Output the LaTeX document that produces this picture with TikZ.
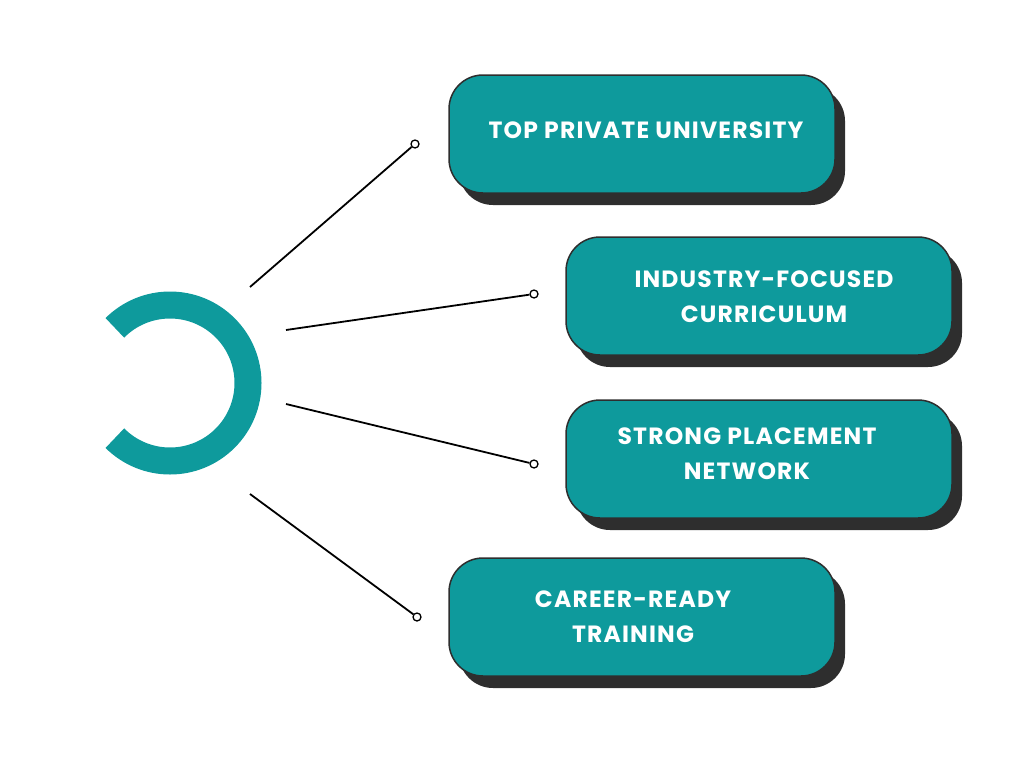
\documentclass[tikz,border=0pt]{standalone}
\usepackage{fontspec}
\setmainfont{Poppins}[LetterSpace=5]
\definecolor{teal1}{HTML}{0E9A9C}
\definecolor{shad}{HTML}{2E2E2E}
\begin{document}
\begin{tikzpicture}[x=1pt,y=-1pt,
  box/.style={draw=shad,line width=1.5pt,fill=teal1,rounded corners=34pt,minimum width=386pt,minimum height=118pt},
  lab/.style={text=white,font=\fontsize{23.5}{35}\selectfont\bfseries,align=center,inner sep=0pt},
  sh/.style={fill=shad,rounded corners=34pt,minimum width=386pt,minimum height=118pt},
  dot/.style={circle,draw=black,fill=white,line width=1.3pt,inner sep=0pt,minimum size=8pt},
  con/.style={line width=1.8pt,black}]
\useasboundingbox (0,0) rectangle (1024,768);
% shadows
\node[sh] at (652,146) {};
\node[sh] at (769,308) {};
\node[sh] at (769,471) {};
\node[sh] at (652,629) {};
\node[box] (b1) at (642,134) {};
\node[box] (b2) at (759,296) {};
\node[box] (b3) at (759,459) {};
\node[box] (b4) at (642,617) {};
\node[lab] (t1) at (646,130) {TOP PRIVATE UNIVERSITY};
\node[lab] (t2) at (764,297) {INDUSTRY-FOCUSED\\CURRICULUM};
\node[lab] (t3) at (747,454) {STRONG PLACEMENT\\NETWORK};
\node[lab] (t4) at (633,617) {CAREER-READY\\TRAINING};
% ring
\draw[teal1,line width=27pt] (170,383) ++(135:78) arc[start angle=135,end angle=-135,radius=78];
\coordinate (s1) at (250,287);
\coordinate (s2) at (286,330);
\coordinate (s3) at (286,404);
\coordinate (s4) at (250,494);
\node[dot] (d1) at (415,144) {};
\node[dot] (d2) at (534,294) {};
\node[dot] (d3) at (534,464) {};
\node[dot] (d4) at (417,617) {};
\draw[con] (s1) -- (d1);
\draw[con] (s2) -- (d2);
\draw[con] (s3) -- (d3);
\draw[con] (s4) -- (d4);
\end{tikzpicture}
\end{document}
